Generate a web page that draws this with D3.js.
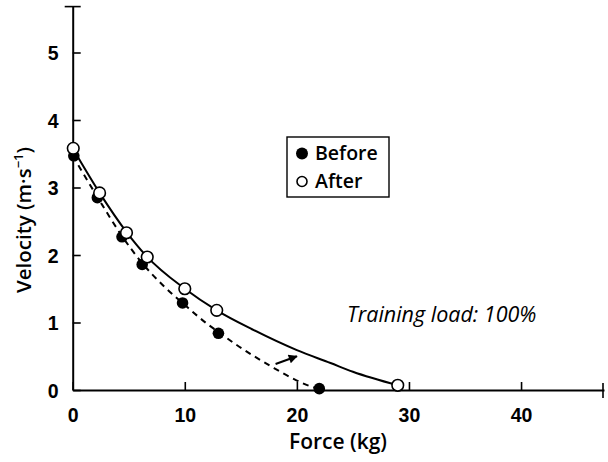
<!DOCTYPE html>
<html><head><meta charset="utf-8">
<script src="https://cdn.jsdelivr.net/npm/d3@7"></script>
<style>
html,body{margin:0;padding:0;background:#fff;}
svg{display:block;font-family:"Open Sans","Noto Sans",sans-serif;}
</style></head>
<body>
<svg id="chart" width="608" height="462"></svg>
<script>
// ---- data ----
const xTicks = [0, 10, 20, 30, 40];
const yTicks = [0, 1, 2, 3, 4, 5];
const beforeForce = [0.1, 2.2, 4.4, 6.2, 9.8, 13.0, 22.0];
const beforeVel   = [3.47, 2.85, 2.27, 1.86, 1.29, 0.84, 0.02];
const afterForce  = [0.05, 2.4, 4.8, 6.65, 10.0, 12.85, 29.0];
const afterVel    = [3.58, 2.92, 2.33, 1.97, 1.50, 1.18, 0.07];
// fitted curves
const beforeCurveF = [0, 2.2, 4.4, 6.2, 8, 10, 12, 13, 14.6, 17.6, 20, 21.3, 22];
const beforeCurveV = [3.47, 2.86, 2.28, 1.88, 1.56, 1.26, 0.98, 0.86, 0.67, 0.36, 0.14, 0.05, 0.02];
const afterCurveF  = [0, 2.4, 4.8, 6.6, 10, 12.85, 16, 20, 23, 25, 29];
const afterCurveV  = [3.58, 2.92, 2.34, 1.98, 1.50, 1.18, 0.90, 0.59, 0.40, 0.27, 0.07];
const arrowFrom = [18.1, 0.385];
const arrowTo   = [20.0, 0.50];
const legendLabels = ["Before", "After"];
const annotation = "Training load: 100%";

const svg = d3.select("#chart");
const x = d3.scaleLinear().domain([0, 47.4]).range([72.7, 604]);
const y = d3.scaleLinear().domain([0, 5.68]).range([390, 6.6]);

// axes
const gx = svg.append("g").attr("transform", `translate(0,${y(0)})`)
  .call(d3.axisBottom(x).tickValues(xTicks).tickFormat(d3.format("d")).tickSize(-8).tickSizeOuter(0).tickPadding(18));
const gy = svg.append("g").attr("transform", `translate(${x(0)},0)`)
  .call(d3.axisLeft(y).tickValues(yTicks).tickFormat(d3.format("d")).tickSize(-8).tickSizeOuter(0).tickPadding(14));
[gx, gy].forEach(g => {
  g.select(".domain").attr("stroke", "#000").attr("stroke-width", 2);
  g.selectAll(".tick line").attr("stroke", "#000").attr("stroke-width", 1.6);
  g.selectAll(".tick text").attr("fill", "#000").style("font-size", "19.5px").style("font-weight", "700");
});
gy.selectAll(".tick text").attr("dy", "0.36em");
// end caps
svg.append("line").attr("x1", x(0) - 8).attr("x2", x(0) + 8).attr("y1", y(5.68)).attr("y2", y(5.68))
  .attr("stroke", "#000").attr("stroke-width", 1.6);
svg.append("line").attr("x1", x(47.4) - 1).attr("x2", x(47.4) - 1).attr("y1", y(0) - 7).attr("y2", y(0) + 8)
  .attr("stroke", "#000").attr("stroke-width", 1.6);

// axis titles
svg.append("text").attr("x", 338).attr("y", 449).attr("text-anchor", "middle")
  .style("font-size", "21px").style("font-weight", "600").text("Force (kg)");
const yt = svg.append("text").attr("transform", "translate(31,220) rotate(-90)").attr("text-anchor", "middle")
  .style("font-size", "20.5px").style("font-weight", "600");
yt.append("tspan").text("Velocity (m·s");
yt.append("tspan").attr("dy", -8).style("font-size", "13px").text("−1");
yt.append("tspan").attr("dy", 8).text(")");

// curves
const line = d3.line().x(d => x(d[0])).y(d => y(d[1])).curve(d3.curveMonotoneX);
svg.append("path").datum(beforeCurveF.map((f, i) => [f, beforeCurveV[i]]))
  .attr("d", line).attr("fill", "none").attr("stroke", "#000").attr("stroke-width", 2)
  .attr("stroke-dasharray", "6,5");
svg.append("path").datum(afterCurveF.map((f, i) => [f, afterCurveV[i]]))
  .attr("d", line).attr("fill", "none").attr("stroke", "#000").attr("stroke-width", 2);

// points
svg.append("g").selectAll("circle").data(beforeForce.map((f, i) => [f, beforeVel[i]]))
  .join("circle").attr("cx", d => x(d[0])).attr("cy", d => y(d[1])).attr("r", 5.8).attr("fill", "#000");
svg.append("g").selectAll("circle").data(afterForce.map((f, i) => [f, afterVel[i]]))
  .join("circle").attr("cx", d => x(d[0])).attr("cy", d => y(d[1])).attr("r", 5.8)
  .attr("fill", "#fff").attr("stroke", "#000").attr("stroke-width", 1.6);

// arrow
svg.append("defs").append("marker").attr("id", "ah").attr("viewBox", "0 0 10 10")
  .attr("refX", 9).attr("refY", 5).attr("markerWidth", 11).attr("markerHeight", 9)
  .attr("markerUnits", "userSpaceOnUse").attr("orient", "auto")
  .append("path").attr("d", "M0,0 L10,5 L0,10 Z").attr("fill", "#000");
svg.append("line").attr("x1", x(arrowFrom[0])).attr("y1", y(arrowFrom[1]))
  .attr("x2", x(arrowTo[0])).attr("y2", y(arrowTo[1]))
  .attr("stroke", "#000").attr("stroke-width", 2).attr("marker-end", "url(#ah)");

// annotation
svg.append("text").attr("x", 347).attr("y", 322).style("font-size", "21.5px").style("font-style", "italic")
  .text(annotation);

// legend
const lg = svg.append("g");
lg.append("rect").attr("x", 287).attr("y", 137).attr("width", 102).attr("height", 60)
  .attr("fill", "#fff").attr("stroke", "#000").attr("stroke-width", 1.4);
lg.append("circle").attr("cx", 302).attr("cy", 153.5).attr("r", 6).attr("fill", "#000");
lg.append("circle").attr("cx", 302).attr("cy", 181.5).attr("r", 5).attr("fill", "#fff")
  .attr("stroke", "#000").attr("stroke-width", 1.6);
lg.selectAll("text.lab").data(legendLabels).join("text").attr("class", "lab")
  .attr("x", 315).attr("y", (d, i) => 160 + i * 28)
  .style("font-size", "19.5px").style("font-weight", "600").text(d => d);
</script>
</body></html>
